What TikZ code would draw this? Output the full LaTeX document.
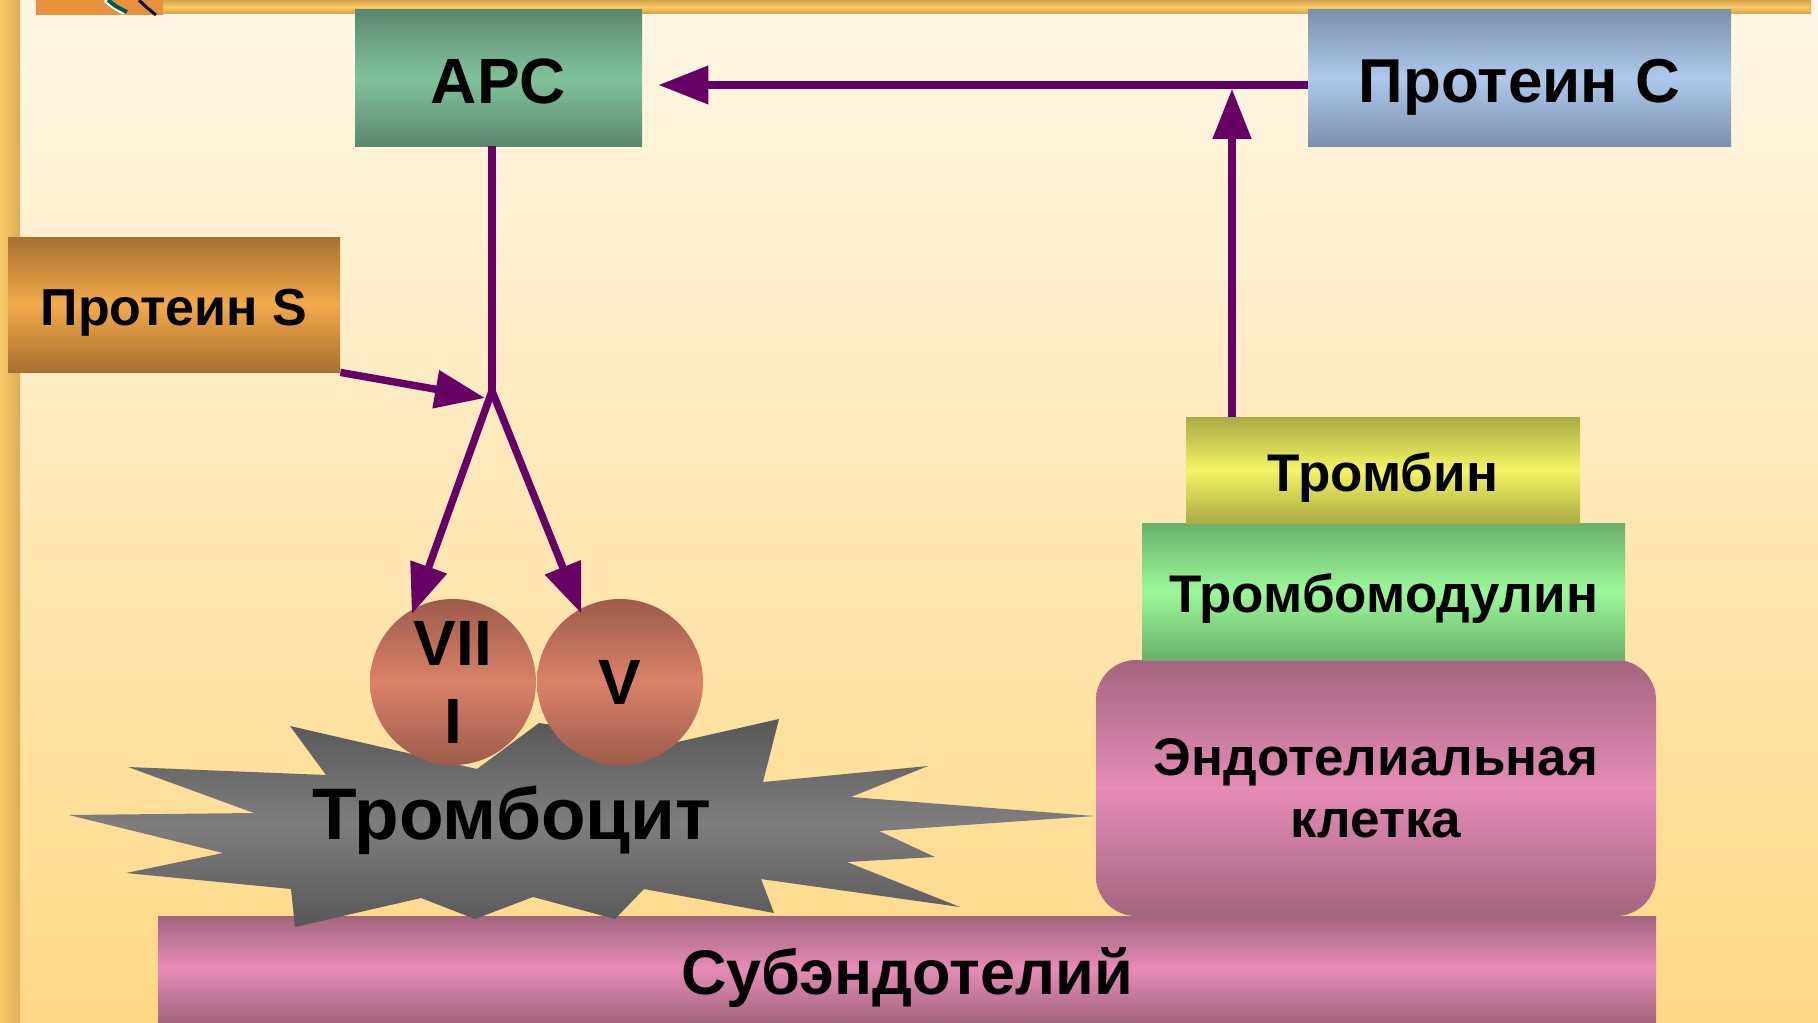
\documentclass[tikz,border=0pt]{standalone}
\usepackage{fontspec}
\setmainfont{Liberation Sans}
\usetikzlibrary{arrows.meta,calc}

\definecolor{bgtop}{HTML}{FFF7E6}
\definecolor{bgbot}{HTML}{FFD886}
\definecolor{goldA}{HTML}{F5C868}
\definecolor{goldB}{HTML}{DCAE55}
\definecolor{barEdge}{HTML}{D3A24A}
\definecolor{barMid}{HTML}{FAC965}
\definecolor{patch}{HTML}{E8913C}
\definecolor{apcEdge}{HTML}{5B8870}
\definecolor{apcMid}{HTML}{80C39A}
\definecolor{pcEdge}{HTML}{7C90AA}
\definecolor{pcMid}{HTML}{AEC9EC}
\definecolor{psEdge}{HTML}{A8702F}
\definecolor{psMid}{HTML}{F2A94A}
\definecolor{tbEdge}{HTML}{ABAB45}
\definecolor{tbMid}{HTML}{F4F464}
\definecolor{tmEdge}{HTML}{69B06A}
\definecolor{tmMid}{HTML}{9CF89A}
\definecolor{pinkEdge}{HTML}{A3657D}
\definecolor{pinkMid}{HTML}{E68CB6}
\definecolor{plEdge}{HTML}{575757}
\definecolor{plMid}{HTML}{7E7E7E}
\definecolor{fEdge}{HTML}{9C5C4A}
\definecolor{fMid}{HTML}{DA8169}
\definecolor{arrowc}{HTML}{660066}

\tikzset{
  vshade/.style 2 args={top color=#1, bottom color=#1, middle color=#2},
  box/.style={inner sep=0pt, text=black, align=center},
  capcentre/.style={text height=#1, text depth=0pt},
  link/.style={draw=arrowc, line width=3.7pt},
  arrowlink/.style={link, -{Triangle[length=25pt,width=18.5pt]}},
  factor/.style={circle, minimum size=83pt, inner sep=0pt, vshade={fEdge}{fMid},
    font=\fontsize{32}{39}\selectfont\bfseries, align=center},
}

\begin{document}
\begin{tikzpicture}[x=0.5pt, y=-0.5pt]
\useasboundingbox (0,0) rectangle (1818,1022);

% background and frame
\shade[top color=bgtop, bottom color=bgbot] (0,0) rectangle (1818,1022);
\shade[left color=goldA, right color=goldB] (0,0) rectangle (20,1022);
\shade[vshade={barEdge}{barMid}] (36,0) rectangle (1811,14);
\fill[patch] (36,0) rectangle (163,15);
\draw[white, line width=2pt] (105,0) .. controls (112,6) .. (124,13);
\draw[teal!70!black, line width=2pt] (108,0) .. controls (115,6) .. (127,12);
\draw[black!80!blue, line width=1.5pt] (139,0) .. controls (146,7) .. (156,15);

% tissue layers
\node[box, capcentre=25.2pt, vshade={pinkEdge}{pinkMid}, minimum width=749pt, minimum height=53pt,
  font=\fontsize{31.5}{36}\selectfont\bfseries] (sub) at (907,969) {Субэндотелий};
\node[box, vshade={pinkEdge}{pinkMid}, minimum width=280pt, minimum height=128pt,
  rounded corners=20pt, font=\fontsize{26.5}{31}\selectfont\bfseries]
  (endo) at (1376,788) {Эндотелиальная\\клетка};
\node[box, capcentre=21.2pt, vshade={tmEdge}{tmMid}, minimum width=241.5pt, minimum height=68.5pt,
  font=\fontsize{26.5}{31}\selectfont\bfseries] (tm) at (1383.5,591.5) {Тромбомодулин};
\node[box, capcentre=21.2pt, vshade={tbEdge}{tbMid}, minimum width=197pt, minimum height=53pt,
  font=\fontsize{26.5}{31}\selectfont\bfseries] (tb) at (1383,470) {Тромбин};

% platelet
\shade[vshade={plEdge}{plMid}]
  (290,726) -- (477,769) -- (539,723) -- (673,743) -- (779,719) -- (763,782)
  -- (928,766) -- (851,797) -- (1094,816) -- (879,831) -- (935,857) -- (847,862)
  -- (960,907) -- (761,879) -- (774,913) -- (644,889) -- (615,919) -- (533,897)
  -- (475,919) -- (421,898) -- (295,927) -- (291,889) -- (126,873) -- (223,853)
  -- (69,815) -- (254,813) -- (128,767) -- (326,775) -- cycle;
\node[capcentre=29.2pt, inner sep=0pt, font=\fontsize{36.5}{40}\selectfont\bfseries]
  (plt) at (512,810) {Тромбоцит};

% factors
\node[factor] (c7) at (453,682) {VII\\I};
\node[factor] (c5) at (620,682) {V};

% proteins
\node[box, capcentre=25.6pt, vshade={apcEdge}{apcMid}, minimum width=143.5pt, minimum height=68pt,
  font=\fontsize{32}{36}\selectfont\bfseries] (apc) at (498.5,78) {APC};
\node[box, capcentre=24.8pt, vshade={pcEdge}{pcMid}, minimum width=211.5pt, minimum height=68pt,
  font=\fontsize{31}{36}\selectfont\bfseries] (pc) at (1519.5,78) {Протеин C};
\node[box, capcentre=20.8pt, vshade={psEdge}{psMid}, minimum width=166pt, minimum height=67.5pt,
  font=\fontsize{26}{31}\selectfont\bfseries] (ps) at (174,304.5) {Протеин S};

% connectors
\coordinate (jn) at (492,391);
\coordinate (jt) at (485,398);
\coordinate (hl) at (1232,85);

\draw[arrowlink, shorten >=8pt] (pc.west |- hl) -- (apc.east |- hl);
\draw[arrowlink, shorten >=1.9pt] (tb.north -| hl) -- (hl);
\draw[link] (apc.south -| jn) -- (jn);
\draw[arrowlink] (ps.south east) -- (jt);
\draw[arrowlink, shorten >=-3pt] (jn) -- (c7.118);
\draw[arrowlink, shorten >=-2.5pt] (jn) -- (c5.119);
\end{tikzpicture}
\end{document}
